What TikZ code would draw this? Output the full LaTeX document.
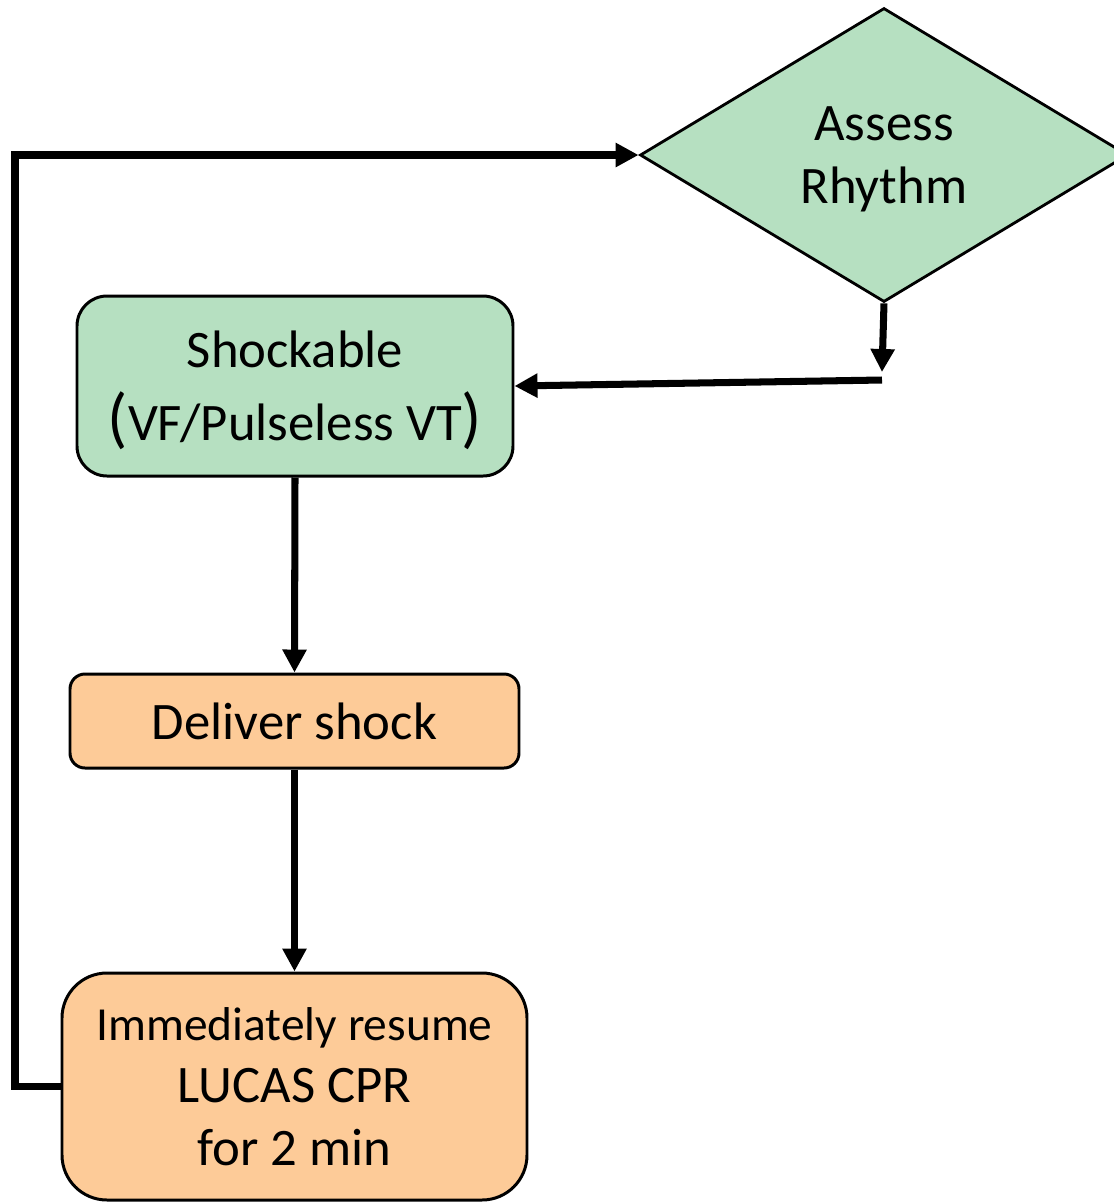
\documentclass[tikz,border=0pt]{standalone}
\usepackage{fontspec}
\setmainfont{Carlito}
\usetikzlibrary{shapes.geometric,arrows.meta}
\definecolor{boxgreen}{HTML}{B6E0C1}
\definecolor{boxorange}{HTML}{FDCB98}
\newcommand{\bigpar}[1]{{\fontsize{38}{41}\selectfont #1}}
\tikzset{
  conn/.style={line width=4pt, -{Triangle[length=0.46cm,width=0.46cm]}},
  decide/.style={diamond, draw, line width=1.6pt, fill=boxgreen, inner sep=0pt,
    minimum width=9.76cm, minimum height=5.88cm, align=center, text depth=0pt,
    font=\fontsize{30}{36}\selectfont},
  stepbox/.style={rectangle, draw, line width=1.7pt, align=center, inner sep=0pt,
    font=\fontsize{30}{41.5}\selectfont}
}
\begin{document}
\begin{tikzpicture}
\useasboundingbox (0,0) rectangle (22.28,-24.06);
\node[decide] (P_1_0) at (17.68,-3.1) {Assess\\Rhythm};
\node[stepbox, fill=boxgreen, rounded corners=0.6cm, minimum width=8.72cm, minimum height=3.6cm, text depth=0pt] (P_0_1) at (5.9,-7.72) {Shockable\\\bigpar{(}VF/Pulseless VT\bigpar{)}};
\node[stepbox, fill=boxorange, rounded corners=0.3cm, minimum width=8.98cm, minimum height=1.88cm] (P_0_2) at (5.89,-14.42) {Deliver shock};
\node[stepbox, fill=boxorange, rounded corners=0.9cm, minimum width=9.3cm, minimum height=4.54cm, text depth=0pt, font=\fontsize{30}{35.3}\selectfont] (P_0_3) at (5.89,-21.73) {{\fontsize{27}{35.3}\selectfont Immediately resume}\\LUCAS CPR\\for 2 min};
\coordinate (C_1_0) at (17.64,-7.44);
\coordinate (C_1_1) at (17.64,-7.6);
\coordinate (C_0_0) at (0.3,-3.1);
\draw[conn] (P_1_0.south) -- (C_1_0);
\draw[conn] (C_1_1) -- (P_0_1.east);
\draw[conn] (P_0_1.south) -- (P_0_2.north);
\draw[conn] (P_0_2.south) -- (P_0_3.north);
\draw[conn] (P_0_3.west) -| (C_0_0) -- (P_1_0.west);
\end{tikzpicture}
\end{document}
